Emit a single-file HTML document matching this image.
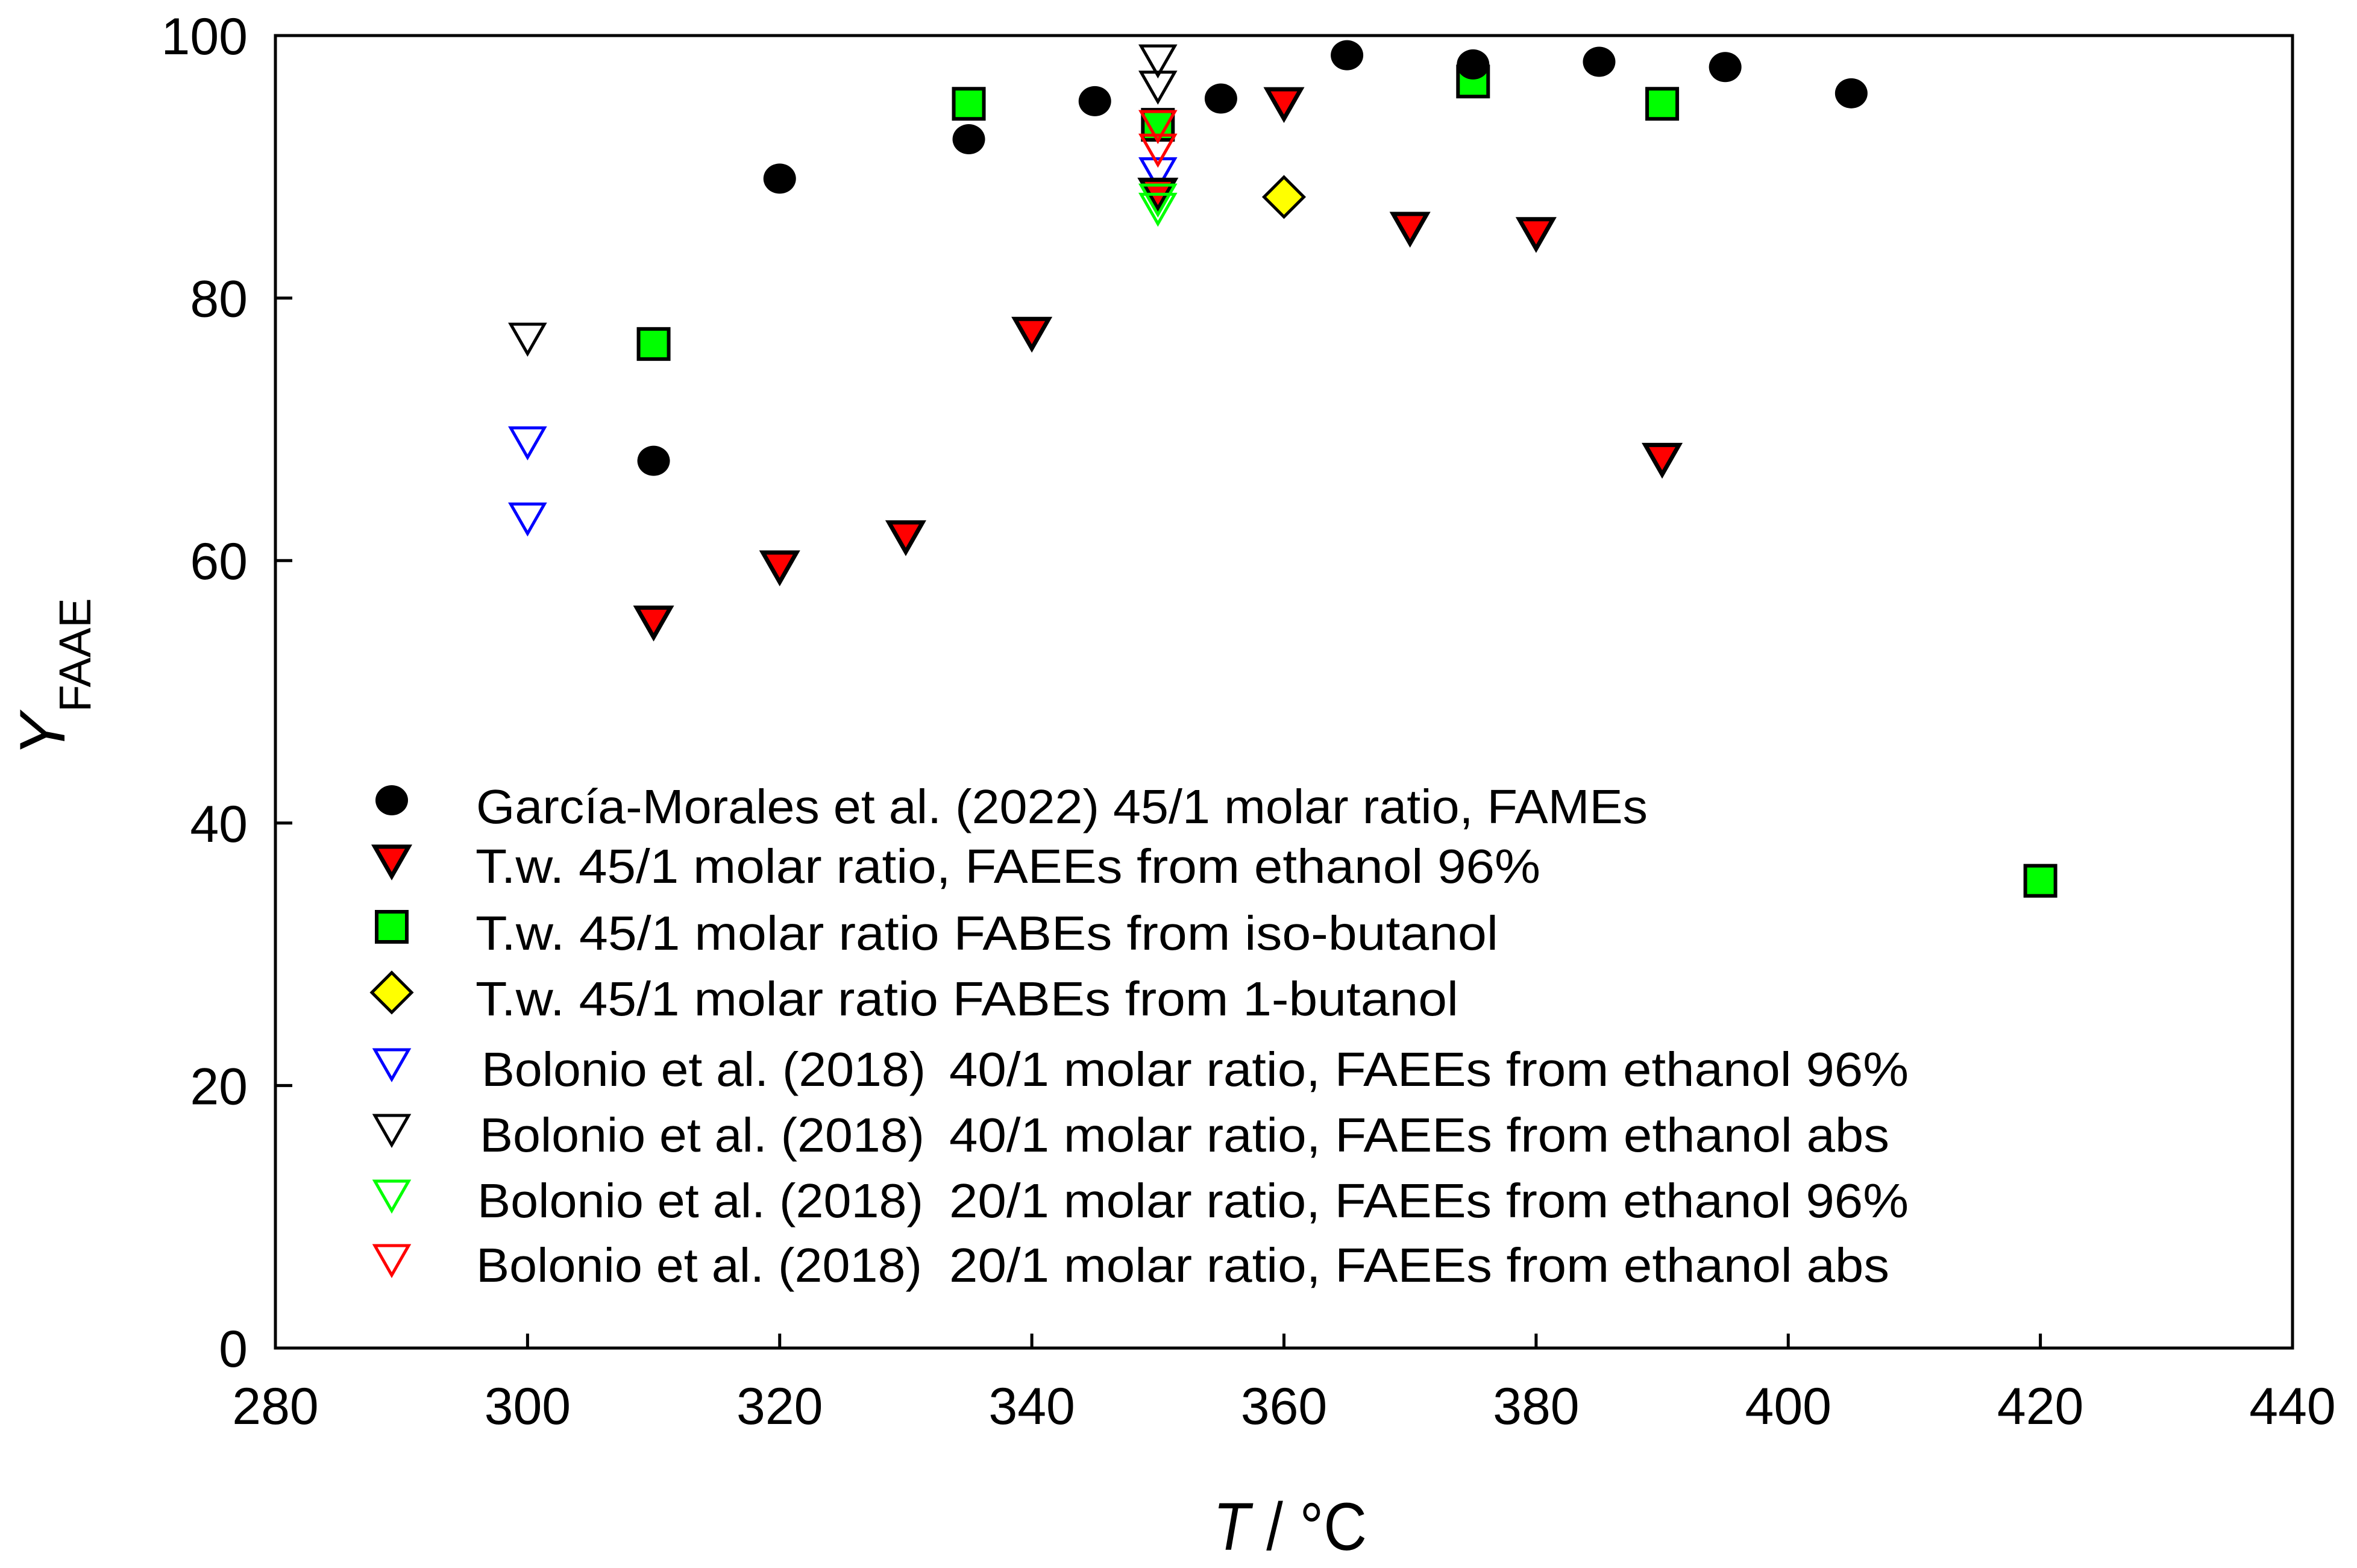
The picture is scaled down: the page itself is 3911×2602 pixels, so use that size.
<!DOCTYPE html>
<html><head><meta charset="utf-8"><style>html,body{margin:0;padding:0;background:#fff}svg{display:block}text{font-family:"Liberation Sans",Arial,sans-serif}</style></head>
<body>
<svg id="chart" width="3911" height="2602" viewBox="0 0 3911 2602" xmlns="http://www.w3.org/2000/svg">
<rect width="3911" height="2602" fill="#fff"/>
<g id="ticks"></g>
<g id="marks"></g>
<rect x="457" y="59" width="3347" height="2178" fill="none" stroke="#000" stroke-width="5"/>
<text transform="translate(107,1255) rotate(-90)" font-size="107"><tspan font-style="italic">Y</tspan><tspan font-size="74" dy="43" dx="2">FAAE</tspan></text>
<text x="2013" y="2572" font-size="112" textLength="255" lengthAdjust="spacingAndGlyphs"><tspan font-style="italic">T</tspan> / °C</text>
<g id="legend"></g>
</svg>
<script>
const xTicks=[280,300,320,340,360,380,400,420,440];
const yTicks=[0,20,40,60,80,100];
const garciaT=[310,320,335,345,355,365,375,385,395,405];
const garciaY=[67.6,89.1,92.1,95.0,95.2,98.5,97.8,98.0,97.6,95.6];
const twEthT=[310,320,330,340,350,360,370,380,390];
const twEthY=[55.4,59.6,61.9,77.4,88.0,94.9,85.4,85.0,67.8];
const twIsoT=[310,335,350,375,390,420];
const twIsoY=[76.5,94.8,93.2,96.5,94.8,35.6];
const twButT=[360];
const twButY=[87.7];
const bol40_96T=[300,300,350];
const bol40_96Y=[69.1,63.3,89.6];
const bol40absT=[300,350,350];
const bol40absY=[77.0,98.2,96.2];
const bol20_96T=[350,350];
const bol20_96Y=[87.6,86.9];
const bol20absT=[350,350];
const bol20absY=[93.2,91.4];

const NS="http://www.w3.org/2000/svg";
const X0=457,X1=3804,Y0=2237,Y1=59;
function sx(v){return X0+(v-280)/160*(X1-X0);}
function sy(v){return Y0-(v-0)/100*(Y0-Y1);}
function mk(tag,attrs,parent){const e=document.createElementNS(NS,tag);for(const k in attrs)e.setAttribute(k,attrs[k]);parent.appendChild(e);return e;}
const ticks=document.getElementById('ticks');
xTicks.forEach(t=>{
  const l=mk('line',{x1:sx(t),x2:sx(t),y1:Y0,y2:Y0-24,stroke:'#000','stroke-width':5},ticks);
  
  
  const tx=mk('text',{x:sx(t),y:2363,'font-size':86,'text-anchor':'middle'},ticks);
  tx.textContent=t;
  
  
});
yTicks.forEach(t=>{
  const l=mk('line',{x1:X0,x2:X0+28,y1:sy(t),y2:sy(t),stroke:'#000','stroke-width':5},ticks);
  
  
  const tx=mk('text',{x:411,y:sy(t)+31,'font-size':86,'text-anchor':'end'},ticks);
  tx.textContent=t;
  
  
});
function marker(shape,cx,cy,fill,stroke,parent){
  let e;
  if(shape==='circle'){e=mk('ellipse',{cx:cx,cy:cy,rx:27,ry:25,fill:fill},parent);}
  else if(shape==='square'){e=mk('rect',{x:cx-25,y:cy-25,width:50,height:50,fill:fill,stroke:stroke,'stroke-width':6},parent);}
  else if(shape==='diamond'){e=mk('polygon',{points:`${cx},${cy-33} ${cx+33},${cy} ${cx},${cy+33} ${cx-33},${cy}`,fill:fill,stroke:stroke,'stroke-width':5},parent);}
  else {e=mk('polygon',{points:`${cx-28},${cy-22} ${cx+28},${cy-22} ${cx},${cy+27}`,fill:fill,stroke:stroke,'stroke-width':shape==='tri-filled'?7:5,'stroke-linejoin':'miter'},parent);}
  return e;
}
const marks=document.getElementById('marks');
const series=[
  ['bolonio-40-abs',bol40absT,bol40absY,'tri','none','#000'],
  ['bolonio-40-96',bol40_96T,bol40_96Y,'tri','none','#0000ff'],
  ['tw-ethanol',twEthT,twEthY,'tri-filled','#ff0000','#000'],
  ['bolonio-20-96',bol20_96T,bol20_96Y,'tri','none','#00ff00'],
  ['tw-isobutanol',twIsoT,twIsoY,'square','#00ff00','#000'],
  ['bolonio-20-abs',bol20absT,bol20absY,'tri','none','#ff0000'],
  ['tw-1-butanol',twButT,twButY,'diamond','#ffff00','#000'],
  ['garcia-morales',garciaT,garciaY,'circle','#000','#000']
];
series.forEach(s=>{
  s[1].forEach((t,i)=>{
    const e=marker(s[3],sx(t),sy(s[2][i]),s[4],s[5],marks);
    
    
  });
});
const lg=document.getElementById('legend');
const legendRows=[
  ['circle','#000','#000',1366,'García-Morales et al. (2022) 45/1 molar ratio, FAMEs',790,1944,null],
  ['tri-filled','#ff0000','#000',1465,'T.w. 45/1 molar ratio, FAEEs from ethanol 96%',789,1767,null],
  ['square','#00ff00','#000',1576,'T.w. 45/1 molar ratio FABEs from iso-butanol',789,1697,null],
  ['diamond','#ffff00','#000',1685,'T.w. 45/1 molar ratio FABEs from 1-butanol',789,1631,null],
  ['tri','none','#0000ff',1802,'Bolonio et al. (2018)',799,737,'40/1 molar ratio, FAEEs from ethanol 96%'],
  ['tri','none','#000',1911,'Bolonio et al. (2018)',796,738,'40/1 molar ratio, FAEEs from ethanol abs'],
  ['tri','none','#00ff00',2020,'Bolonio et al. (2018)',792,740,'20/1 molar ratio, FAEEs from ethanol 96%'],
  ['tri','none','#ff0000',2127,'Bolonio et al. (2018)',790,740,'20/1 molar ratio, FAEEs from ethanol abs']
];
legendRows.forEach(r=>{
  const m=marker(r[0],650,r[3]-38,r[1],r[2],lg);
  
  
  const t=mk('text',{x:r[5],y:r[3],'font-size':80,textLength:r[6],lengthAdjust:'spacingAndGlyphs'},lg);
  t.textContent=r[4];
  
  
  if(r[7]){
    const t2=mk('text',{x:1575,y:r[3],'font-size':80,textLength:(r[7].endsWith('%')?1592:1560),lengthAdjust:'spacingAndGlyphs'},lg);
    t2.textContent=r[7];
    
    
  }
});
</script>
</body></html>
